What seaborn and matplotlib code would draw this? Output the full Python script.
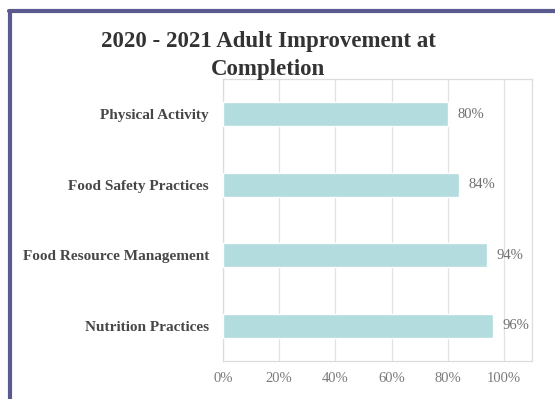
import matplotlib
matplotlib.use("Agg")
import matplotlib.pyplot as plt
from matplotlib.lines import Line2D
from matplotlib.ticker import PercentFormatter
import seaborn as sns
import pandas as pd

categories = ["Physical Activity", "Food Safety Practices",
              "Food Resource Management", "Nutrition Practices"]
values = [80, 84, 94, 96]
x_ticks = [0, 20, 40, 60, 80, 100]

df = pd.DataFrame({"area": categories, "pct": values})

sns.set_theme(style="white")
plt.rcParams["font.family"] = ["Liberation Serif", "DejaVu Serif"]

fig = plt.figure(figsize=(5.55, 3.99), dpi=100)
fig.patch.set_facecolor("white")
ax = fig.add_axes([223 / 555, 1 - 361 / 399, (532 - 223) / 555, (361 - 79) / 399])

sns.barplot(data=df, x="pct", y="area", orient="h", color="#b3dcdf",
            saturation=1, width=0.34, ax=ax, zorder=3)

ax.set_xlim(0, 110)
ax.set_ylim(3.5, -0.5)
ax.set_xticks(x_ticks)
ax.xaxis.set_major_formatter(PercentFormatter(decimals=0))
ax.grid(axis="x", color="#e2e2e2", linewidth=0.9, zorder=0)
ax.set_xlabel("")
ax.set_ylabel("")
for s in ax.spines.values():
    s.set_color("#dcdcdc")
    s.set_linewidth(0.9)
ax.tick_params(axis="x", labelsize=10.5, labelcolor="#7a7a7a", length=0, pad=8)
ax.tick_params(axis="y", labelsize=11, labelcolor="#474747", length=0, pad=10)
for lbl in ax.get_yticklabels():
    lbl.set_fontweight("bold")

for i, v in enumerate(values):
    ax.text(v + 3.5, i, f"{v}%", va="center", ha="left",
            fontsize=10.5, color="#6f6f6f")

fig.text(268 / 555, 1 - 55.5 / 399, "2020 - 2021 Adult Improvement at\nCompletion",
         ha="center", va="center", fontsize=16.5, fontweight="bold",
         color="#333333", linespacing=1.4)

# outer frame: left and top edges
frame_color = "#5b5a8e"
fig.add_artist(Line2D([10 / 555, 10 / 555], [0, 1 - 11 / 399],
                      transform=fig.transFigure, color=frame_color, linewidth=3))
fig.add_artist(Line2D([8.5 / 555, 1], [1 - 11 / 399, 1 - 11 / 399],
                      transform=fig.transFigure, color=frame_color, linewidth=3))

fig.savefig("out.png", dpi=100, facecolor="white")
